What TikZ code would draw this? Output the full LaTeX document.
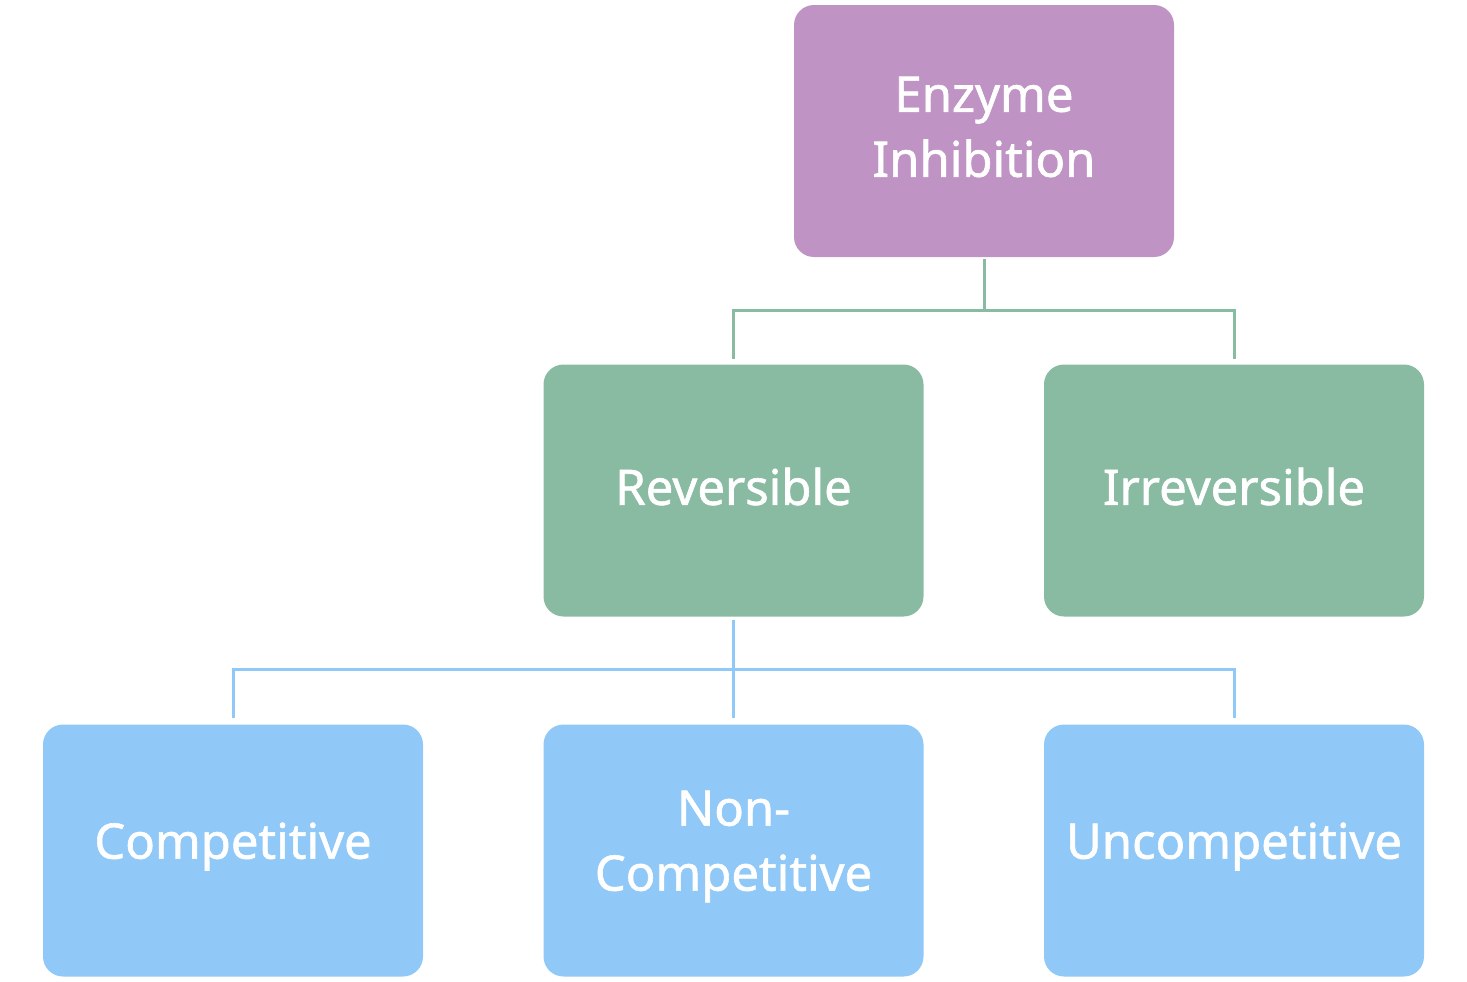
\documentclass[tikz,border=0pt]{standalone}
\usepackage{fontspec}
\setmainfont{Noto Sans}
\newfontfamily\lblfont{Noto Sans}[FakeBold=1.2]
\definecolor{cpurple}{HTML}{BF94C5}
\definecolor{cgreen}{HTML}{89BBA2}
\definecolor{cblue}{HTML}{90C9F7}
\begin{document}
\begin{tikzpicture}[x=0.5pt,y=-0.5pt,
  box/.style={rounded corners=10pt, minimum width=190pt, minimum height=126pt,
    inner sep=0pt},
  lbl/.style={text=white, align=center, inner sep=0pt,
    font=\lblfont\fontsize{24.5}{32.5}\selectfont},
  gline/.style={draw=cgreen, line width=1.5pt},
  bline/.style={draw=cblue, line width=1.5pt}]
\useasboundingbox (0,0) rectangle (1467,981);
\node[box, fill=cpurple] (top) at (984,131) {};
\node[box, fill=cgreen] (rev) at (733.5,490.5) {};
\node[box, fill=cgreen] (irr) at (1234,490.5) {};
\node[box, fill=cblue] (comp) at (233,850.5) {};
\node[box, fill=cblue] (non) at (733.5,850.5) {};
\node[box, fill=cblue] (unc) at (1234,850.5) {};
\node[lbl] (ttop) at ([yshift=2pt]top.center) {Enzyme\\Inhibition};
\node[lbl] (trev) at ([yshift=2pt]rev.center) {Reversible};
\node[lbl] (tirr) at ([yshift=2pt]irr.center) {Irreversible};
\node[lbl] (tcomp) at ([yshift=2pt]comp.center) {Competitive};
\node[lbl] (tnon) at ([yshift=2pt]non.center) {Non-\\Competitive};
\node[lbl] (tunc) at ([yshift=2pt]unc.center) {Uncompetitive};
\draw[gline, shorten <=1pt, shorten >=2.5pt] (top.south) -- ++(0,53) -| (rev.north);
\draw[gline, shorten <=1pt, shorten >=2.5pt] (top.south) -- ++(0,53) -| (irr.north);
\draw[bline, shorten <=1.5pt, shorten >=3pt] (rev.south) -- ++(0,53) -| (comp.north);
\draw[bline, shorten <=1.5pt, shorten >=3pt] (rev.south) -- (non.north);
\draw[bline, shorten <=1.5pt, shorten >=3pt] (rev.south) -- ++(0,53) -| (unc.north);
\end{tikzpicture}
\end{document}
